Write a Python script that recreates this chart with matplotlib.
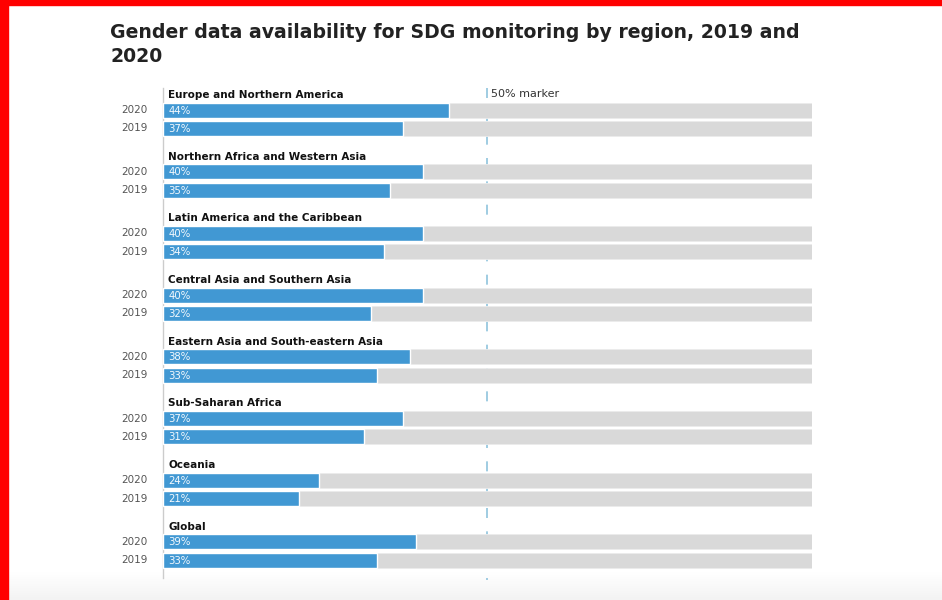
import matplotlib
matplotlib.use("Agg")
import matplotlib.pyplot as plt
import numpy as np
from matplotlib.patches import Rectangle

regions = ["Europe and Northern America", "Northern Africa and Western Asia",
           "Latin America and the Caribbean", "Central Asia and Southern Asia",
           "Eastern Asia and South-eastern Asia", "Sub-Saharan Africa",
           "Oceania", "Global"]
v2020 = [44, 40, 40, 40, 38, 37, 24, 39]
v2019 = [37, 35, 34, 32, 33, 31, 21, 33]
years = ["2020", "2019"]
marker_value = 50
xmax = 100

W, H = 942, 600
fig = plt.figure(figsize=(W / 100, H / 100), dpi=100)
fig.patch.set_facecolor("white")

# bottom fade
grad = np.linspace(0, 1, 50).reshape(-1, 1)
gax = fig.add_axes([0, 0, 1, 28 / H])
gax.imshow(grad, aspect="auto", cmap=matplotlib.colors.LinearSegmentedColormap.from_list("g", ["#f3f3f3", "#ffffff"]),
           extent=[0, 1, 0, 1], origin="lower")
gax.axis("off")

# red frame
fig.add_artist(Rectangle((0, 0), 8 / W, 1, transform=fig.transFigure, color="#ff0000", zorder=10))
fig.add_artist(Rectangle((0, 1 - 5 / H), 1, 5 / H, transform=fig.transFigure, color="#ff0000", zorder=10))

fig.text(110 / W, 1 - 32 / H, "Gender data availability for SDG monitoring by region, 2019 and",
         fontsize=13.6, fontweight="bold", color="#222222", va="center", ha="left")
fig.text(110 / W, 1 - 57 / H, "2020",
         fontsize=13.6, fontweight="bold", color="#222222", va="center", ha="left")

top_px, bot_px = 88, 580
left_px, right_px = 163, 812
ax = fig.add_axes([left_px / W, 1 - bot_px / H, (right_px - left_px) / W, (bot_px - top_px) / H])
ax.set_xlim(0, xmax)
ax.set_ylim(bot_px, top_px)
ax.axis("off")

pitch = 61.7
first_title = 95
bar_h = 15
blue = "#4198d3"
gray = "#d9d9d9"
for i, name in enumerate(regions):
    t = first_title + i * pitch
    ax.text(0.8, t, name, fontsize=7.5, fontweight="bold", color="#111111", va="center", ha="left")
    for j, val in enumerate([v2020[i], v2019[i]]):
        yc = t + 15 + j * 18.3
        ax.barh(yc, xmax, height=bar_h, color=gray, edgecolor="#ececec", linewidth=0.6, zorder=1)
        ax.barh(yc, val, height=bar_h, color=blue, edgecolor="white", linewidth=1.0, zorder=2)
        ax.text(0.8, yc + 0.5, f"{val}%", fontsize=7.3, color="#f4f9fd", va="center", ha="left", zorder=3)
        ax.text(-2.4, yc, years[j], fontsize=7.5, color="#555555", va="center", ha="right", clip_on=False)

ax.plot([0, 0], [top_px, bot_px - 2], color="#cccccc", linewidth=1, zorder=0, clip_on=False)
ax.plot([marker_value, marker_value], [top_px, bot_px], color="#8fc3dd", linewidth=1.2,
        linestyle=(0, (6, 8)), zorder=0, clip_on=False)
ax.text(marker_value + 0.6, 94, "50% marker", fontsize=8, color="#333333", va="center", ha="left")

fig.savefig("out.png", dpi=100)
